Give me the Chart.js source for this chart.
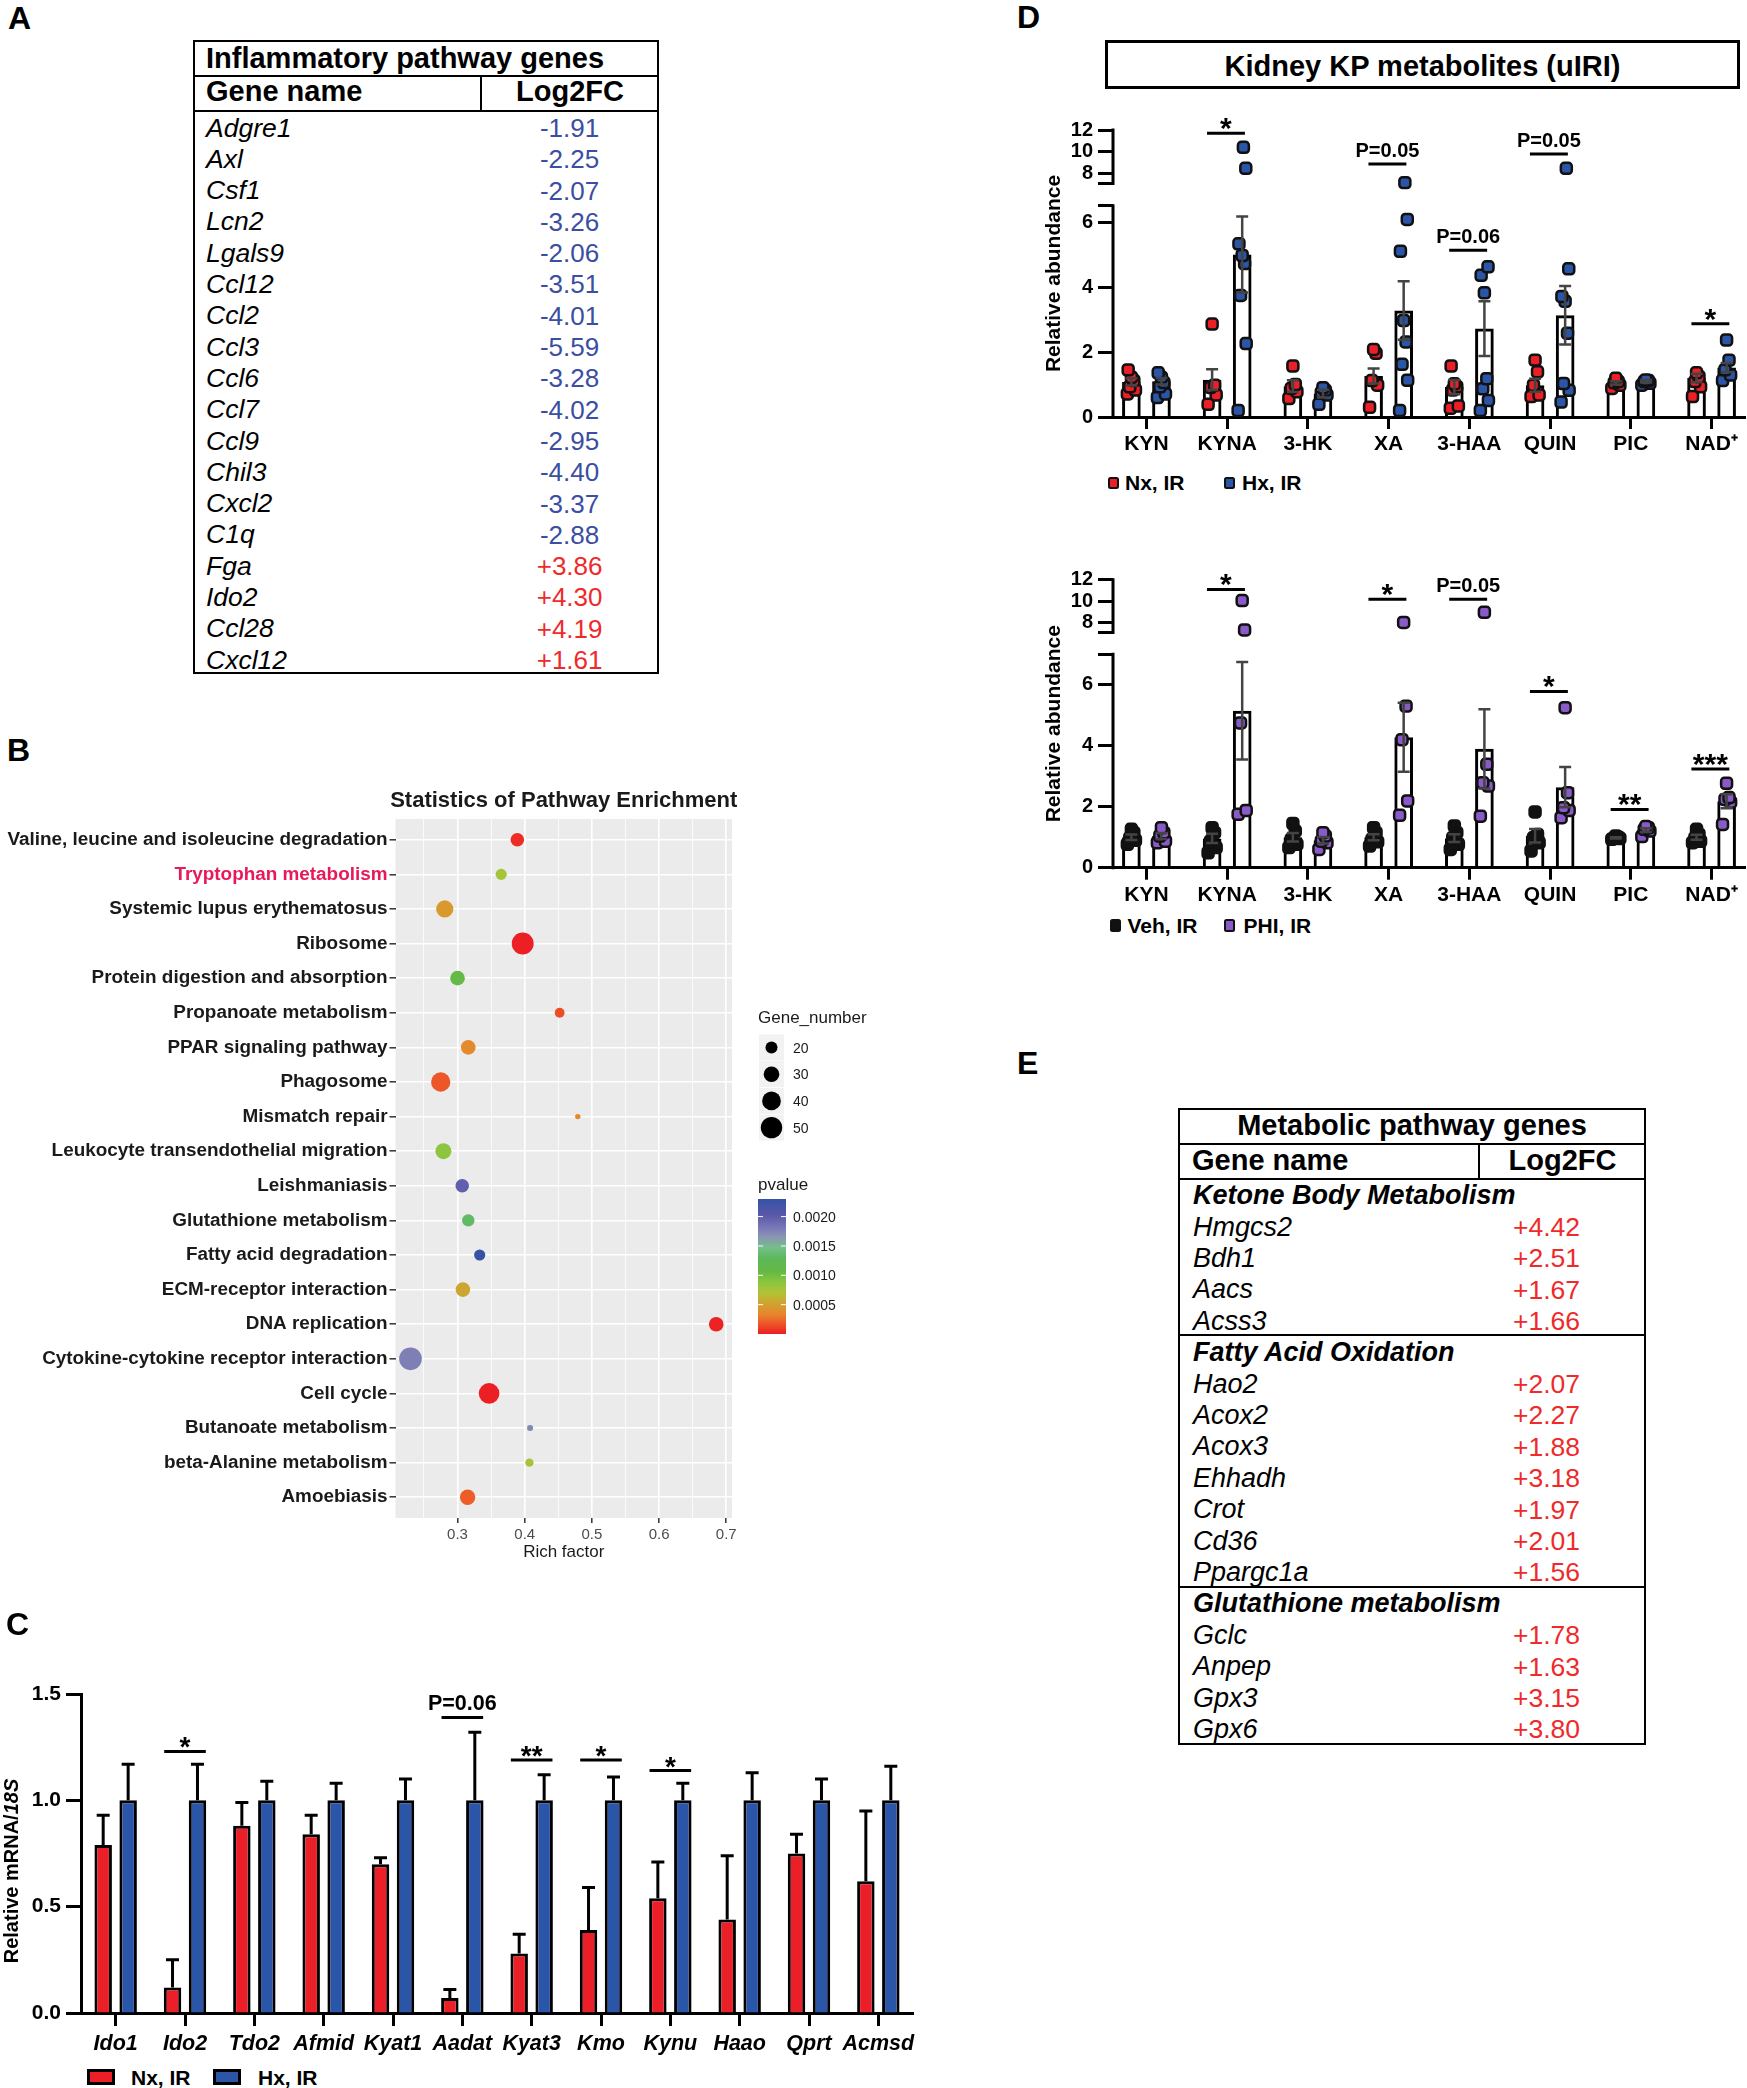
<!DOCTYPE html>
<html>
<head>
<meta charset="UTF-8">
<title>Kynurenine pathway figure</title>
<script src="https://cdn.jsdelivr.net/npm/chart.js"></script>
<style>
  html, body { margin: 0; padding: 0; background: #fff; }
  body { position: relative; width: 1747px; height: 2088px; overflow: hidden;
         font-family: "Liberation Sans", Arial, Helvetica, sans-serif; color: #000; }
  canvas { position: absolute; }
  .txt { position: absolute; white-space: nowrap; }
  .frame { position: absolute; box-sizing: border-box; border: 2px solid #000; }
  .rule { position: absolute; background: #000; }
  .key { position: absolute; box-sizing: border-box; border: 2.5px solid #111; border-radius: 2.5px; }
</style>
</head>
<body>
<canvas id="chartB" width="900" height="790" style="left:0;top:780px"></canvas>
<canvas id="chartC" width="920" height="420" style="left:0;top:1640px"></canvas>
<canvas id="chartD1" width="717" height="360" style="left:1030px;top:100px"></canvas>
<canvas id="chartD2" width="717" height="360" style="left:1030px;top:550px"></canvas>

<script>
// ---- A: inflammatory pathway genes ----
const inflGenes = ['Adgre1', 'Axl', 'Csf1', 'Lcn2', 'Lgals9', 'Ccl12', 'Ccl2', 'Ccl3', 'Ccl6',
                   'Ccl7', 'Ccl9', 'Chil3', 'Cxcl2', 'C1q', 'Fga', 'Ido2', 'Ccl28', 'Cxcl12'];
const inflLog2FC = [-1.91, -2.25, -2.07, -3.26, -2.06, -3.51, -4.01, -5.59, -3.28,
                    -4.02, -2.95, -4.40, -3.37, -2.88, 3.86, 4.30, 4.19, 1.61];

// ---- B: KEGG enrichment ----
const pathways = ['Valine, leucine and isoleucine degradation', 'Tryptophan metabolism',
  'Systemic lupus erythematosus', 'Ribosome', 'Protein digestion and absorption',
  'Propanoate metabolism', 'PPAR signaling pathway', 'Phagosome', 'Mismatch repair',
  'Leukocyte transendothelial migration', 'Leishmaniasis', 'Glutathione metabolism',
  'Fatty acid degradation', 'ECM-receptor interaction', 'DNA replication',
  'Cytokine-cytokine receptor interaction', 'Cell cycle', 'Butanoate metabolism',
  'beta-Alanine metabolism', 'Amoebiasis'];
const richFactor = [0.389, 0.365, 0.281, 0.397, 0.300, 0.452, 0.316, 0.275, 0.479, 0.279,
                    0.307, 0.316, 0.333, 0.308, 0.685, 0.230, 0.347, 0.408, 0.407, 0.315];
const geneNumber = [24, 18, 35, 52, 27, 15, 27, 42, 7, 31, 24, 21, 18, 27, 27, 55, 47, 8, 12, 29];
const pValue = [0.00005, 0.00076, 0.00046, 0.00001, 0.00108, 0.00015, 0.00037, 0.00018, 0.00036, 0.00087,
                0.00198, 0.00133, 0.00230, 0.00054, 0.00002, 0.00177, 0.00001, 0.00173, 0.00075, 0.00020];
const richTicks = [0.3, 0.4, 0.5, 0.6, 0.7];
const richGrid = [0.25, 0.3, 0.35, 0.4, 0.45, 0.5, 0.55, 0.6, 0.65, 0.7];
const geneLegend = [20, 30, 40, 50];
const pLegend = [0.0005, 0.0010, 0.0015, 0.0020];

// ---- C: qPCR ----
const genesC = ['Ido1', 'Ido2', 'Tdo2', 'Afmid', 'Kyat1', 'Aadat', 'Kyat3', 'Kmo', 'Kynu', 'Haao', 'Qprt', 'Acmsd'];
const nxMeanC = [0.79, 0.12, 0.88, 0.84, 0.70, 0.07, 0.28, 0.39, 0.54, 0.44, 0.75, 0.62];
const nxSemC  = [0.14, 0.13, 0.11, 0.09, 0.03, 0.04, 0.09, 0.20, 0.17, 0.30, 0.09, 0.33];
const hxMeanC = [1.00, 1.00, 1.00, 1.00, 1.00, 1.00, 1.00, 1.00, 1.00, 1.00, 1.00, 1.00];
const hxSemC  = [0.17, 0.17, 0.09, 0.08, 0.10, 0.32, 0.12, 0.11, 0.08, 0.13, 0.10, 0.16];
const sigC  = [null, '*', null, null, null, 'P=0.06', '**', '*', '*', null, null, null];
const sigCY = [null, 1.23, null, null, null, 1.39, 1.19, 1.19, 1.14, null, null, null];

// ---- D: kidney KP metabolites ----
const kpLabels = ['KYN', 'KYNA', '3-HK', 'XA', '3-HAA', 'QUIN', 'PIC', 'NAD\u207A'];
const nxMeanD = [1.08, 1.15, 0.95, 1.26, 0.92, 0.98, 1.05, 1.20];
const nxSemD  = [0.11, 0.32, 0.18, 0.23, 0.22, 0.20, 0.05, 0.13];
const hxMeanD = [1.10, 5.00, 0.72, 3.28, 2.72, 3.13, 1.10, 1.52];
const hxSemD  = [0.10, 1.17, 0.12, 0.90, 0.84, 0.90, 0.04, 0.14];
const nxPtsD = [[0.71, 0.83, 0.93, 1.12, 1.22, 1.45], [0.39, 0.68, 0.91, 0.98, 2.86], [0.57, 0.78, 0.88, 1.00, 1.57],
                [0.30, 0.98, 1.12, 1.96, 2.08], [0.27, 0.34, 0.83, 0.93, 1.02, 1.57], [0.63, 0.68, 0.98, 1.39, 1.75],
                [0.88, 0.98, 1.05, 1.09, 1.19], [0.63, 0.93, 1.09, 1.24, 1.36]];
const hxPtsD = [[0.60, 0.71, 0.93, 1.06, 1.22, 1.36], [0.20, 2.26, 3.74, 4.72, 4.97, 5.33, 8.46, 10.4],
                [0.39, 0.68, 0.75, 0.82, 0.90], [0.20, 1.13, 1.62, 2.31, 2.97, 5.10, 6.08, 7.14],
                [0.20, 0.51, 0.87, 1.18, 3.82, 4.36, 4.62], [0.46, 0.82, 1.03, 2.58, 3.56, 3.71, 4.56, 8.46],
                [0.98, 1.04, 1.09, 1.12, 1.14], [1.12, 1.29, 1.45, 1.75, 2.37]];
const sigD1  = [null, '*', null, 'P=0.05', 'P=0.06', 'P=0.05', null, '*'];
const sigD1Y = [null, 11.7, null, 8.86, 5.13, 9.78, null, 2.87];

const vehMean = [1.00, 0.96, 1.00, 1.00, 0.97, 1.05, 0.98, 1.00];
const vehSem  = [0.09, 0.15, 0.14, 0.10, 0.13, 0.22, 0.02, 0.08];
const phiMean = [1.04, 5.15, 0.90, 4.28, 3.90, 2.64, 1.23, 2.18];
const phiSem  = [0.10, 1.60, 0.11, 1.13, 1.30, 0.66, 0.06, 0.23];
const vehPts = [[0.77, 0.90, 0.98, 1.15, 1.26], [0.49, 0.66, 0.87, 1.15, 1.31], [0.66, 0.77, 0.93, 1.20, 1.45],
                [0.71, 0.85, 0.93, 1.15, 1.31], [0.60, 0.77, 0.98, 1.15, 1.37], [0.55, 0.82, 0.98, 1.09, 1.83],
                [0.93, 0.96, 0.98, 1.00, 1.04], [0.82, 0.87, 0.98, 1.09, 1.26]];
const phiPts = [[0.82, 0.87, 1.04, 1.15, 1.31], [1.75, 1.88, 4.75, 7.30, 10.05], [0.60, 0.82, 0.87, 1.04, 1.15],
                [1.72, 2.19, 4.20, 5.30, 8.00], [1.69, 2.68, 2.79, 3.39, 8.95], [1.64, 1.88, 1.97, 2.46, 5.25],
                [1.02, 1.20, 1.26, 1.31, 1.35], [1.42, 2.15, 2.24, 2.30, 2.77]];
const sigD2  = [null, '*', null, '*', 'P=0.05', '*', '**', '***'];
const sigD2Y = [null, 11.09, null, 10.17, 10.17, 5.78, 1.91, 3.24];

// ---- E: metabolic pathway genes ----
const metaGroups = ['Ketone Body Metabolism', 'Fatty Acid Oxidation', 'Glutathione metabolism'];
const metaGenes = [['Hmgcs2', 'Bdh1', 'Aacs', 'Acss3'],
                   ['Hao2', 'Acox2', 'Acox3', 'Ehhadh', 'Crot', 'Cd36', 'Ppargc1a'],
                   ['Gclc', 'Anpep', 'Gpx3', 'Gpx6']];
const metaLog2FC = [[4.42, 2.51, 1.67, 1.66],
                    [2.07, 2.27, 1.88, 3.18, 1.97, 2.01, 1.56],
                    [1.78, 1.63, 3.15, 3.80]];

// ------------------------------------------------------------------
const FONT = '"Liberation Sans", Arial, Helvetica, sans-serif';
const RED = '#ea1f27', BLUE = '#2b55a6';
const TXT_BLUE = '#3a4ea2', TXT_RED = '#ee2a2a';

function put(text, x, base, size, o = {}) {
  const d = document.createElement('div');
  d.className = 'txt';
  d.textContent = text;
  d.style.fontSize = size + 'px';
  d.style.lineHeight = size + 'px';
  d.style.top = (base - 0.8465 * size) + 'px';
  d.style.left = x + 'px';
  if (o.bold) d.style.fontWeight = 'bold';
  if (o.italic) d.style.fontStyle = 'italic';
  if (o.color) d.style.color = o.color;
  if (o.center) d.style.transform = 'translateX(-50%)';
  document.body.appendChild(d);
}
function rule(x, y, w, h) {
  const d = document.createElement('div');
  d.className = 'rule';
  Object.assign(d.style, { left: x + 'px', top: y + 'px', width: w + 'px', height: h + 'px' });
  document.body.appendChild(d);
}
function box(cls, x, y, w, h, extra = {}) {
  const d = document.createElement('div');
  d.className = cls;
  Object.assign(d.style, { left: x + 'px', top: y + 'px', width: w + 'px', height: h + 'px' }, extra);
  document.body.appendChild(d);
}
const fmtFC = v => (v > 0 ? '+' : '-') + Math.abs(v).toFixed(2);

// panel letters
put('A', 8, 29, 32, { bold: true });
put('B', 7, 761, 32, { bold: true });
put('C', 6, 1635, 32, { bold: true });
put('D', 1017, 28, 32, { bold: true });
put('E', 1017, 1074, 32, { bold: true });

// table A
box('frame', 193, 40, 466, 634);
rule(193, 74.5, 466, 2);
rule(193, 110, 466, 2);
rule(480, 75, 2, 36);
put('Inflammatory pathway genes', 206, 68.5, 29, { bold: true });
put('Gene name', 206, 102, 29, { bold: true });
put('Log2FC', 570, 102, 29, { bold: true, center: true });
inflGenes.forEach((g, i) => {
  const base = 137 + i * 31.3;
  put(g, 206, base, 26.5, { italic: true });
  put(fmtFC(inflLog2FC[i]), 569.6, base, 26, { center: true, color: inflLog2FC[i] < 0 ? TXT_BLUE : TXT_RED });
});

// table E
box('frame', 1178, 1108, 468, 637);
rule(1178, 1142.5, 468, 2);
rule(1178, 1177.5, 468, 2);
rule(1478, 1143, 2, 36);
put('Metabolic pathway genes', 1412, 1136, 29, { bold: true, center: true });
put('Gene name', 1192, 1170.5, 29, { bold: true });
put('Log2FC', 1562.5, 1170.5, 29, { bold: true, center: true });
let secTop = 1178.4;
metaGroups.forEach((grp, gi) => {
  if (gi > 0) rule(1178, secTop - 1, 468, 2);
  put(grp, 1193, secTop + 26.6, 27, { bold: true, italic: true });
  metaGenes[gi].forEach((g, k) => {
    const base = secTop + 26.6 + (k + 1) * 31.4;
    put(g, 1193, base, 27, { italic: true });
    put(fmtFC(metaLog2FC[gi][k]), 1546.5, base, 26.5, { center: true, color: TXT_RED });
  });
  secTop += (metaGenes[gi].length + 1) * 31.4;
});

// D header box and legends, C legend
box('frame', 1105, 40, 635, 49, { borderWidth: '3px' });
put('Kidney KP metabolites (uIRI)', 1422.5, 76.5, 29, { bold: true, center: true });
box('key', 1108, 476.5, 11, 12, { background: RED });
put('Nx, IR', 1125, 490, 21, { bold: true });
box('key', 1223.5, 476.5, 11, 12, { background: BLUE });
put('Hx, IR', 1242, 490, 21, { bold: true });
box('key', 1109.5, 919, 11, 13, { background: '#111' });
put('Veh, IR', 1127.5, 933, 21, { bold: true });
box('key', 1224, 919, 11, 13, { background: '#8a5ac8' });
put('PHI, IR', 1243.5, 933, 21, { bold: true });
box('frame', 87, 2069, 28, 16, { background: RED, borderWidth: '3px' });
put('Nx, IR', 131, 2085, 21, { bold: true });
box('frame', 213, 2069, 28, 16, { background: BLUE, borderWidth: '3px' });
put('Hx, IR', 258, 2085, 21, { bold: true });

// ------------------------------------------------------------------
Chart.defaults.font.family = FONT;
Chart.defaults.color = '#000';
Chart.defaults.animation = false;
Chart.defaults.plugins.legend.display = false;
Chart.defaults.plugins.tooltip.enabled = false;

// y axis with a break: [min, lowMax] on the lower part, [highMin, max] on the upper part
class BrokenScale extends Chart.LinearScale {
  getPixelForValue(value) {
    const b = this.options.brk;
    if (!b || value === null) return super.getPixelForValue(value);
    const h = this.bottom - this.top;
    const lowTop = this.bottom - h * b.lowFrac;
    const highBot = this.top + h * b.highFrac;
    if (value <= b.lowMax) return this.bottom - (value - this.min) / (b.lowMax - this.min) * (this.bottom - lowTop);
    if (value >= b.highMin) return highBot - (value - b.highMin) / (this.max - b.highMin) * (highBot - this.top);
    return lowTop - (value - b.lowMax) / (b.highMin - b.lowMax) * (lowTop - highBot);
  }
}
BrokenScale.id = 'broken';
BrokenScale.defaults = Chart.LinearScale.defaults;
Chart.register(BrokenScale);

// error bars from dataset.means / dataset.sem
const errorBars = {
  id: 'errorBars',
  afterDatasetsDraw(chart) {
    const ctx = chart.ctx, y = chart.scales.y;
    chart.data.datasets.forEach((ds, di) => {
      if (!ds.sem) return;
      const meta = chart.getDatasetMeta(di);
      ctx.save();
      ctx.strokeStyle = ds.errColor;
      ctx.lineWidth = ds.errWidth;
      meta.data.forEach((bar, i) => {
        const m = ds.means[i], s = ds.sem[i];
        const yTop = y.getPixelForValue(m + s);
        const yBot = ds.errBoth ? y.getPixelForValue(m - s) : y.getPixelForValue(m);
        const c = ds.errCap;
        ctx.beginPath();
        ctx.moveTo(bar.x, yBot); ctx.lineTo(bar.x, yTop);
        ctx.moveTo(bar.x - c, yTop); ctx.lineTo(bar.x + c, yTop);
        if (ds.errBoth) { ctx.moveTo(bar.x - c, yBot); ctx.lineTo(bar.x + c, yBot); }
        ctx.stroke();
      });
      ctx.restore();
    });
  }
};

// significance bars + labels
function sigMarks(texts, levels, from, to, pSize, starSize) {
  return {
    id: 'sigMarks',
    afterDatasetsDraw(chart) {
      const { ctx, scales: { x, y } } = chart;
      texts.forEach((t, i) => {
        if (!t) return;
        const yy = y.getPixelForValue(levels[i]);
        const xa = x.getPixelForValue(i + from), xb = x.getPixelForValue(i + to);
        ctx.save();
        ctx.strokeStyle = '#000';
        ctx.lineWidth = 3;
        ctx.beginPath(); ctx.moveTo(xa, yy); ctx.lineTo(xb, yy); ctx.stroke();
        ctx.fillStyle = '#000';
        ctx.textAlign = 'center';
        ctx.textBaseline = 'alphabetic';
        if (t[0] === 'P') {
          ctx.font = `bold ${pSize}px ${FONT}`;
          ctx.fillText(t, (xa + xb) / 2, yy - 7);
        } else {
          ctx.font = `bold ${starSize}px ${FONT}`;
          ctx.fillText(t, (xa + xb) / 2, yy + 5);
        }
        ctx.restore();
      });
    }
  };
}

// ---------------- B: bubble chart ----------------
const P_MAX = 0.0023;
const pStops = [[0, '#ec1c24'], [0.06, '#ee4a26'], [0.14, '#e8822c'], [0.22, '#d2a030'], [0.30, '#b4c236'],
                [0.38, '#8cc63e'], [0.46, '#66b944'], [0.56, '#5cb85a'], [0.64, '#74bf8a'], [0.72, '#8a94b4'],
                [0.80, '#7673b5'], [0.88, '#5a58a8'], [1, '#3552a5']];
function hex(c) { return [1, 3, 5].map(k => parseInt(c.substr(k, 2), 16)); }
function colorFor(p) {
  const t = Math.max(0, Math.min(1, p / P_MAX));
  for (let k = 1; k < pStops.length; k++) {
    if (t <= pStops[k][0]) {
      const [t0, c0] = pStops[k - 1], [t1, c1] = pStops[k];
      const f = (t - t0) / (t1 - t0), a = hex(c0), b = hex(c1);
      return 'rgb(' + a.map((v, j) => Math.round(v + (b[j] - v) * f)).join(',') + ')';
    }
  }
  return pStops[pStops.length - 1][1];
}
const sizeFor = n => 1.81 * Math.sqrt(n) - 2.09;

const panelBg = {
  id: 'panelBg',
  beforeDraw(chart) {
    const { ctx, chartArea: a } = chart;
    ctx.save();
    ctx.fillStyle = '#ebebeb';
    ctx.fillRect(a.left, a.top, a.right - a.left, a.bottom - a.top);
    ctx.restore();
  }
};
const bDecor = {
  id: 'bDecor',
  afterDraw(chart) {
    const { ctx, chartArea: a } = chart;
    ctx.save();
    ctx.fillStyle = '#1a1a1a';
    ctx.textAlign = 'center';
    ctx.font = `bold 22px ${FONT}`;
    ctx.fillText('Statistics of Pathway Enrichment', (a.left + a.right) / 2, 26.7);
    // size legend
    ctx.textAlign = 'left';
    ctx.font = `17px ${FONT}`;
    ctx.fillText('Gene_number', 758, 243);
    ctx.font = `14px ${FONT}`;
    geneLegend.forEach((n, k) => {
      const cy = 267.5 + k * 26.7;
      ctx.fillStyle = '#f2f2f2';
      ctx.fillRect(759, cy - 13, 25, 26);
      ctx.fillStyle = '#000';
      ctx.beginPath(); ctx.arc(771.5, cy, sizeFor(n), 0, Math.PI * 2); ctx.fill();
      ctx.fillStyle = '#1a1a1a';
      ctx.fillText(String(n), 793, cy + 5);
    });
    // colour bar
    ctx.font = `17px ${FONT}`;
    ctx.fillText('pvalue', 758, 410);
    const top = 419, bot = 554, x0 = 758, w = 28;
    const g = ctx.createLinearGradient(0, bot, 0, top);
    pStops.forEach(([t, c]) => g.addColorStop(t, c));
    ctx.fillStyle = g;
    ctx.fillRect(x0, top, w, bot - top);
    ctx.font = `14px ${FONT}`;
    pLegend.forEach(p => {
      const yy = bot - p / P_MAX * (bot - top);
      ctx.strokeStyle = '#fff';
      ctx.lineWidth = 1;
      ctx.beginPath();
      ctx.moveTo(x0, yy); ctx.lineTo(x0 + 5, yy);
      ctx.moveTo(x0 + w - 5, yy); ctx.lineTo(x0 + w, yy);
      ctx.stroke();
      ctx.fillStyle = '#1a1a1a';
      ctx.fillText(p.toFixed(4), 793, yy + 5);
    });
    ctx.restore();
  }
};

new Chart(document.getElementById('chartB'), {
  type: 'bubble',
  data: {
    datasets: [{
      data: pathways.map((p, i) => ({ x: richFactor[i], y: i, r: sizeFor(geneNumber[i]) })),
      backgroundColor: pValue.map(colorFor),
      borderWidth: 0
    }]
  },
  options: {
    responsive: false, devicePixelRatio: 1, events: [],
    layout: { autoPadding: false, padding: { top: 39, right: 168, left: 0, bottom: 0 } },
    scales: {
      x: {
        type: 'linear', min: 0.2077, max: 0.7085,
        afterBuildTicks: s => { s.ticks = richGrid.map(v => ({ value: v })); },
        ticks: { autoSkip: false, maxRotation: 0, color: '#4d4d4d', font: { size: 15 }, padding: 3,
                 callback: v => richTicks.includes(v) ? v.toFixed(1) : '' },
        grid: { color: '#fff', lineWidth: c => richTicks.includes(c.tick.value) ? 1.6 : 0.8,
                tickColor: c => richTicks.includes(c.tick.value) ? '#333' : 'rgba(0,0,0,0)',
                tickLength: 5, tickWidth: 1.5 },
        border: { display: false },
        title: { display: true, text: 'Rich factor', color: '#1a1a1a', font: { size: 17 }, padding: { top: 0, bottom: 7 } },
        afterFit: s => { s.height = 52; }
      },
      y: {
        type: 'linear', reverse: true, min: -0.6, max: 19.6,
        afterBuildTicks: s => { s.ticks = pathways.map((p, i) => ({ value: i })); },
        ticks: { autoSkip: false, padding: 2, font: { size: 18.9, weight: 'bold' },
                 color: c => c.index === 1 ? '#e8195a' : '#1a1a1a',
                 callback: v => pathways[v] },
        grid: { color: '#fff', lineWidth: 1.6, tickColor: '#333', tickLength: 6, tickWidth: 1.5 },
        border: { display: false },
        afterFit: s => { s.width = 395.5; }
      }
    }
  },
  plugins: [panelBg, bDecor]
});

// ---------------- C: grouped bars ----------------
const cYTitle = {
  id: 'cYTitle',
  afterDraw(chart) {
    const ctx = chart.ctx, a = 'Relative mRNA/', b = '18S';
    ctx.save();
    ctx.translate(12, 231);
    ctx.rotate(-Math.PI / 2);
    ctx.font = `bold 20px ${FONT}`;
    const wa = ctx.measureText(a).width;
    ctx.font = `italic bold 20px ${FONT}`;
    const wb = ctx.measureText(b).width;
    const x0 = -(wa + wb) / 2;
    ctx.fillStyle = '#000';
    ctx.textBaseline = 'middle';
    ctx.font = `bold 20px ${FONT}`;
    ctx.fillText(a, x0, 0);
    ctx.font = `italic bold 20px ${FONT}`;
    ctx.fillText(b, x0 + wa, 0);
    ctx.restore();
  }
};

new Chart(document.getElementById('chartC'), {
  type: 'bar',
  data: {
    labels: genesC,
    datasets: [
      { label: 'Nx, IR', data: nxMeanC, backgroundColor: RED, borderColor: '#000', borderWidth: 3,
        means: nxMeanC, sem: nxSemC, errColor: '#000', errWidth: 3, errCap: 6.5, errBoth: false },
      { label: 'Hx, IR', data: hxMeanC, backgroundColor: BLUE, borderColor: '#000', borderWidth: 3,
        means: hxMeanC, sem: hxSemC, errColor: '#000', errWidth: 3, errCap: 6.5, errBoth: false }
    ]
  },
  options: {
    responsive: false, devicePixelRatio: 1, events: [],
    layout: { autoPadding: false, padding: { top: 54, right: 7, left: 0, bottom: 0 } },
    datasets: { bar: { categoryPercentage: 0.72, barPercentage: 0.70 } },
    scales: {
      x: {
        offset: true,
        grid: { offset: false, drawOnChartArea: false, tickLength: 13, tickWidth: 3, tickColor: '#000' },
        border: { color: '#000', width: 3 },
        ticks: { autoSkip: false, maxRotation: 0, padding: 5, color: '#000',
                 font: { size: 21.5, weight: 'bold', style: 'italic' } },
        afterFit: s => { s.height = 47; }
      },
      y: {
        min: 0, max: 1.5,
        ticks: { stepSize: 0.5, padding: 5, color: '#000', font: { size: 21, weight: 'bold' },
                 callback: v => v.toFixed(1) },
        grid: { drawOnChartArea: false, tickLength: 15, tickWidth: 3, tickColor: '#000' },
        border: { color: '#000', width: 3 },
        afterFit: s => { s.width = 81; }
      }
    }
  },
  plugins: [errorBars, sigMarks(sigC, sigCY, -0.3, 0.3, 21.5, 28), cYTitle]
});

// ---------------- D: bars + dots on a broken axis ----------------
const GROUP_OFF = 0.186;                       // half distance between the paired bars
const JIT = [-0.05, 0.05, -0.02, 0.03, 0.0, -0.04, 0.045, 0.015];

const axisBreak = {
  id: 'axisBreak',
  afterDraw(chart) {
    const y = chart.scales.y, b = y.options.brk, x0 = chart.chartArea.left, ctx = chart.ctx;
    ctx.save();
    ctx.strokeStyle = '#000';
    ctx.lineWidth = 3;
    ctx.beginPath();
    ctx.moveTo(x0, y.getPixelForValue(0) + 1.5); ctx.lineTo(x0, y.getPixelForValue(b.lowMax) - 1.5);
    ctx.moveTo(x0, y.getPixelForValue(b.highMin) + 1.5); ctx.lineTo(x0, y.getPixelForValue(y.max) - 1.5);
    ctx.stroke();
    ctx.restore();
  }
};

function kpChart(id, c) {
  const bars = (means, sem, label) => ({
    type: 'bar', label, order: 1,
    data: means.map((v, i) => ({ x: i, y: v })),
    backgroundColor: 'rgba(255,255,255,0)', borderColor: '#000', borderWidth: 3,
    means, sem, errColor: '#444', errWidth: 2.5, errCap: 6, errBoth: true
  });
  const dots = (pts, side, color) => ({
    type: 'scatter', order: 0,
    data: pts.flatMap((vals, i) => vals.map((v, k) => ({ x: i + side * GROUP_OFF + JIT[k % JIT.length], y: v }))),
    pointStyle: 'rectRounded', pointRadius: 6.4, borderWidth: 2.5,
    borderColor: '#111', backgroundColor: color
  });
  return new Chart(document.getElementById(id), {
    type: 'bar',
    data: {
      datasets: [
        bars(c.aMean, c.aSem, c.aName), bars(c.bMean, c.bSem, c.bName),
        dots(c.aPts, -1, c.aColor), dots(c.bPts, 1, c.bColor)
      ]
    },
    options: {
      responsive: false, devicePixelRatio: 1, events: [],
      layout: { autoPadding: false, padding: { top: c.padTop, right: 2, left: 0, bottom: 0 } },
      datasets: { bar: { categoryPercentage: 0.745, barPercentage: 0.62 } },
      scales: {
        x: {
          type: 'linear', min: -0.414, max: 7.414, offset: false,
          afterBuildTicks: s => { s.ticks = kpLabels.map((l, i) => ({ value: i })); },
          ticks: { autoSkip: false, maxRotation: 0, padding: 3, color: '#000',
                   font: { size: 21, weight: 'bold' }, callback: v => kpLabels[v] },
          grid: { offset: false, drawOnChartArea: false, tickLength: 12, tickWidth: 3, tickColor: '#000' },
          border: { color: '#000', width: 3 },
          afterFit: s => { s.height = c.xHeight; }
        },
        y: {
          type: 'broken', min: 0, max: 12, brk: c.brk,
          afterBuildTicks: s => { s.ticks = c.yTicks.map(v => ({ value: v })); },
          ticks: { autoSkip: false, padding: 5, color: '#000', font: { size: 20, weight: 'bold' },
                   callback: v => (v % 2 === 0 ? String(v) : '') },
          grid: { drawOnChartArea: false, tickLength: 15, tickWidth: 3, tickColor: '#000' },
          border: { display: false },
          title: { display: true, text: 'Relative abundance', color: '#000',
                   font: { size: 21, weight: 'bold' }, padding: { top: 12, bottom: 0 } },
          afterFit: s => { s.width = 83; }
        }
      }
    },
    plugins: [axisBreak, errorBars, sigMarks(c.sig, c.sigY, -0.25, 0.22, 20, 30)]
  });
}

kpChart('chartD1', {
  aName: 'Nx, IR', bName: 'Hx, IR', aColor: RED, bColor: BLUE,
  aMean: nxMeanD, aSem: nxSemD, bMean: hxMeanD, bSem: hxSemD, aPts: nxPtsD, bPts: hxPtsD,
  sig: sigD1, sigY: sigD1Y,
  brk: { lowMax: 6.5, highMin: 7.07, lowFrac: 0.736, highFrac: 0.186 },
  yTicks: [0, 2, 4, 6, 6.5, 7.07, 8, 10, 12],
  padTop: 30, xHeight: 43
});
kpChart('chartD2', {
  aName: 'Veh, IR', bName: 'PHI, IR', aColor: '#111', bColor: '#8a5ac8',
  aMean: vehMean, aSem: vehSem, bMean: phiMean, bSem: phiSem, aPts: vehPts, bPts: phiPts,
  sig: sigD2, sigY: sigD2Y,
  brk: { lowMax: 7, highMin: 7.07, lowFrac: 0.741, highFrac: 0.183 },
  yTicks: [0, 2, 4, 6, 7, 7.07, 8, 10, 12],
  padTop: 29.7, xHeight: 42.3
});
</script>
</body>
</html>
